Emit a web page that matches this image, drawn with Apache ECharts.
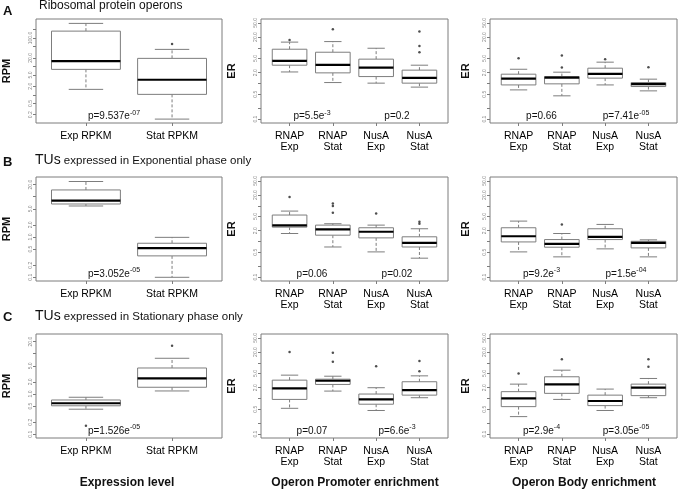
<!DOCTYPE html>
<html><head><meta charset="utf-8">
<script src="https://cdn.jsdelivr.net/npm/echarts@6/dist/echarts.min.js"></script>
<style>html,body{margin:0;padding:0;background:#fff}#c{width:686px;height:489px}</style>
</head><body><div id="c"></div>
<script>
// ---------- categories ----------
const rpmCats = ['Exp RPKM', 'Stat RPKM'];
const erCats = ['RNAP\nExp', 'RNAP\nStat', 'NusA\nExp', 'NusA\nStat'];

// ---------- tick values / labels ----------
const ticksRibRPM = [0.2, 0.5, 1, 2, 5, 10, 20, 50, 100, 200];
const labelsRibRPM = [0.2, 0.5, 2, 5, 20, 100];
const ticksTuRPM = [0.1, 0.2, 0.5, 1, 2, 5, 10, 20];
const labelsTuRPM = [0.1, 0.2, 0.5, 1, 2, 5, 20];
const ticksER = [0.1, 0.2, 0.5, 1, 2, 5, 10, 20, 50];
const labelsER = [0.1, 0.5, 2, 5, 20, 50];

// ---------- box statistics [min, Q1, median, Q3, max] ----------
// Row A: Ribosomal protein operons
const ribRPM = [[1.56, 7.9, 15.5, 176, 329], [0.14, 1.04, 3.4, 19.3, 40]];
const ribRPMOut = [[], [61.5]];
const ribProm = [[2.1, 3.25, 4.3, 9.1, 14.4], [1.06, 1.98, 3.3, 7.5, 14.9], [1.02, 1.56, 2.79, 4.8, 9.7], [0.79, 1.02, 1.44, 2.36, 3.25]];
const ribPromOut = [[16.6], [33], [], [28.4, 11.3, 7.5]];
const ribBody = [[0.66, 0.91, 1.37, 1.82, 2.5], [0.45, 0.975, 1.46, 1.56, 2.07], [0.91, 1.41, 1.86, 2.68, 3.95], [0.62, 0.82, 0.955, 1.06, 1.32]];
const ribBodyOut = [[5.1], [6.05, 2.79], [4.8], [2.86]];
// Row B: TUs expressed in Exponential phase only
const expRPM = [[5.88, 6.59, 7.96, 14.7, 23.8], [0.10, 0.34, 0.53, 0.70, 0.98]];
const expRPMOut = [[], []];
const expProm = [[1.67, 2.52, 2.81, 5.5, 7.1], [0.70, 1.5, 2.17, 2.87, 3.14], [0.51, 1.26, 1.87, 2.42, 2.87], [0.34, 0.70, 0.91, 1.35, 2.27]];
const expPromOut = [[17.7], [11.5, 9.9, 6.4], [6.1], [3.58, 3.14]];
const expBody = [[0.51, 0.97, 1.40, 2.42, 3.72], [0.37, 0.69, 0.86, 1.13, 1.67], [0.62, 1.13, 1.35, 2.27, 3.0], [0.37, 0.66, 0.91, 1.01, 1.11]];
const expBodyOut = [[], [3.0], [], []];
// Row C: TUs expressed in Stationary phase only
const statRPM = [[0.42, 0.51, 0.59, 0.71, 0.83], [1.19, 1.47, 2.45, 4.42, 7.7]];
const statRPMOut = [[0.163], [15.8]];
const statProm = [[0.53, 0.94, 1.91, 3.26, 4.5], [1.61, 2.47, 3.13, 3.47, 4.2], [0.46, 0.69, 0.94, 1.33, 2.0], [1.05, 1.24, 1.71, 2.94, 4.3]];
const statPromOut = [[20.1], [19.2, 10.6], [8.0], [11.3, 5.8]];
const statBody = [[0.31, 0.59, 1.0, 1.55, 2.52], [0.94, 1.39, 2.47, 4.05, 6.2], [0.46, 0.63, 0.85, 1.24, 1.83], [1.05, 1.2, 2.0, 2.52, 3.63]];
const statBodyOut = [[5.0], [12.5], [], [12.5, 7.7]];

// ---------- p-values ----------
const pvals = [
  [['p=9.537e', '-07']], [['p=5.5e', '-3'], ['p=0.2', '']], [['p=0.66', ''], ['p=7.41e', '-05']],
  [['p=3.052e', '-05']], [['p=0.06', ''], ['p=0.02', '']], [['p=9.2e', '-3'], ['p=1.5e', '-04']],
  [['p=1.526e', '-05']], [['p=0.07', ''], ['p=6.6e', '-3']], [['p=2.9e', '-4'], ['p=3.05e', '-05']]
];

// ---------- layout ----------
const colLeft = [33, 261, 490], colWidth = [189, 187, 187];
const rowTop = [19, 177, 334], gridH = 104;
const grey = '#7d7d7d';

const panels = [
  {r:0,c:0,stats:ribRPM,out:ribRPMOut,cats:rpmCats,ymin:0.102,ymax:470,ticks:ticksRibRPM,labels:labelsRibRPM,name:'RPM'},
  {r:0,c:1,stats:ribProm,out:ribPromOut,cats:erCats,ymin:0.078,ymax:64,ticks:ticksER,labels:labelsER,name:'ER'},
  {r:0,c:2,stats:ribBody,out:ribBodyOut,cats:erCats,ymin:0.078,ymax:64,ticks:ticksER,labels:labelsER,name:'ER'},
  {r:1,c:0,stats:expRPM,out:expRPMOut,cats:rpmCats,ymin:0.081,ymax:30.8,ticks:ticksTuRPM,labels:labelsTuRPM,name:'RPM'},
  {r:1,c:1,stats:expProm,out:expPromOut,cats:erCats,ymin:0.078,ymax:64,ticks:ticksER,labels:labelsER,name:'ER'},
  {r:1,c:2,stats:expBody,out:expBodyOut,cats:erCats,ymin:0.078,ymax:64,ticks:ticksER,labels:labelsER,name:'ER'},
  {r:2,c:0,stats:statRPM,out:statRPMOut,cats:rpmCats,ymin:0.081,ymax:30.8,ticks:ticksTuRPM,labels:labelsTuRPM,name:'RPM'},
  {r:2,c:1,stats:statProm,out:statPromOut,cats:erCats,ymin:0.078,ymax:64,ticks:ticksER,labels:labelsER,name:'ER'},
  {r:2,c:2,stats:statBody,out:statBodyOut,cats:erCats,ymin:0.078,ymax:64,ticks:ticksER,labels:labelsER,name:'ER'}
];

function renderBox(params, api) {
  const x = api.value(0);
  const lo = api.coord([x, api.value(1)]);
  const q1 = api.coord([x, api.value(2)]);
  const md = api.coord([x, api.value(3)]);
  const q3 = api.coord([x, api.value(4)]);
  const hi = api.coord([x, api.value(5)]);
  const left = api.coord([x - 0.4, api.value(3)])[0];
  const right = api.coord([x + 0.4, api.value(3)])[0];
  const w = right - left, cx = (left + right) / 2;
  const dash = {stroke: grey, lineWidth: 1, lineDash: [3, 2]};
  const solid = {stroke: grey, lineWidth: 1};
  return {type: 'group', children: [
    {type: 'line', shape: {x1: cx, y1: q3[1], x2: cx, y2: hi[1]}, style: dash},
    {type: 'line', shape: {x1: cx, y1: q1[1], x2: cx, y2: lo[1]}, style: dash},
    {type: 'line', shape: {x1: cx - w / 4, y1: hi[1], x2: cx + w / 4, y2: hi[1]}, style: solid},
    {type: 'line', shape: {x1: cx - w / 4, y1: lo[1], x2: cx + w / 4, y2: lo[1]}, style: solid},
    {type: 'rect', shape: {x: cx - w / 2, y: q3[1], width: w, height: q1[1] - q3[1]}, style: {fill: '#fff', stroke: grey, lineWidth: 1}},
    {type: 'line', shape: {x1: cx - w / 2, y1: md[1], x2: cx + w / 2, y2: md[1]}, style: {stroke: '#000', lineWidth: 2.2}}
  ]};
}

const grids = [], xAxes = [], yAxes = [], series = [];
panels.forEach((p, i) => {
  const n = p.cats.length;
  const pos = p.cats.map((_, k) => k + 1);
  grids.push({left: colLeft[p.c], top: rowTop[p.r], width: colWidth[p.c], height: gridH,
    show: true, borderColor: grey, borderWidth: 1, backgroundColor: 'transparent'});
  xAxes.push({type: 'value', gridIndex: i, min: 0.5 - 0.04 * n, max: n + 0.5 + 0.04 * n,
    axisLine: {show: false}, splitLine: {show: false},
    axisTick: {show: true, customValues: pos, length: 3, lineStyle: {color: grey}},
    axisLabel: {customValues: pos, formatter: v => p.cats[Math.round(v) - 1], fontSize: 10.5,
      color: '#000', margin: 8, lineHeight: 11, fontFamily: 'Liberation Sans, Arial'}});
  yAxes.push({type: 'log', logBase: 10, gridIndex: i, min: p.ymin, max: p.ymax,
    axisLine: {show: false}, splitLine: {show: false},
    axisTick: {show: true, customValues: p.ticks, length: 3, lineStyle: {color: grey}},
    axisLabel: {customValues: p.labels, formatter: v => Number(v).toFixed(1), rotate: 90,
      fontSize: 5, color: '#888', margin: 3, fontFamily: 'Liberation Sans, Arial'},
    name: p.name, nameLocation: 'middle', nameGap: p.c === 2 ? 19 : 24,
    nameTextStyle: {fontSize: 11, fontWeight: 'bold', color: '#111', fontFamily: 'Liberation Sans, Arial'}});
  series.push({type: 'custom', xAxisIndex: i, yAxisIndex: i, renderItem: renderBox,
    encode: {x: 0, y: [1, 2, 3, 4, 5]},
    data: p.stats.map((s, k) => [k + 1].concat(s)), silent: true, animation: false});
  const outs = [];
  p.out.forEach((arr, k) => arr.forEach(v => outs.push([k + 1, v])));
  series.push({type: 'scatter', xAxisIndex: i, yAxisIndex: i, data: outs, symbol: 'circle',
    symbolSize: 2.5, itemStyle: {color: '#222'}, silent: true, animation: false});
});

// ---------- text graphics ----------
const graphics = [];
const ff = 'Liberation Sans, Arial';
function txt(x, y, text, style) {
  graphics.push({type: 'text', x: x, y: y, silent: true,
    style: Object.assign({text: text, fill: '#111', font: '12px ' + ff, textVerticalAlign: 'middle'}, style)});
}
txt(3, 11.5, 'A', {font: 'bold 13px ' + ff});
txt(39, 6, 'Ribosomal protein operons', {font: '12px ' + ff});
txt(3, 162, 'B', {font: 'bold 13px ' + ff});
txt(35, 160.5, '{big|TUs}{n| expressed in Exponential phase only}', {rich: {big: {fontSize: 14, fontFamily: ff}, n: {fontSize: 11.5, fontFamily: ff}}});
txt(3, 317, 'C', {font: 'bold 13px ' + ff});
txt(35, 316.5, '{big|TUs}{n| expressed in Stationary phase only}', {rich: {big: {fontSize: 14, fontFamily: ff}, n: {fontSize: 11.5, fontFamily: ff}}});
txt(127, 483, 'Expression level', {font: 'bold 12px ' + ff, textAlign: 'center'});
txt(355, 483, 'Operon Promoter enrichment', {font: 'bold 12px ' + ff, textAlign: 'center'});
txt(584, 483, 'Operon Body enrichment', {font: 'bold 12px ' + ff, textAlign: 'center'});

const pY = [116.5, 274, 431];
const pX = [[114], [312, 397], [541.5, 626]];
panels.forEach((p, i) => {
  pvals[i].forEach((pv, k) => {
    const t = pv[1] ? '{b|' + pv[0] + '}{s|' + pv[1] + '}' : '{b|' + pv[0] + '}';
    txt(pX[p.c][k], pY[p.r], t, {textAlign: 'center',
      rich: {b: {fontSize: 10, lineHeight: 14, fontFamily: ff, fill: '#111'},
             s: {fontSize: 7, lineHeight: 7, verticalAlign: 'top', fontFamily: ff, fill: '#111'}}});
  });
});

const chart = echarts.init(document.getElementById('c'), null, {renderer: 'canvas'});
chart.setOption({animation: false, grid: grids, xAxis: xAxes, yAxis: yAxes, series: series, graphic: graphics});
</script></body></html>
